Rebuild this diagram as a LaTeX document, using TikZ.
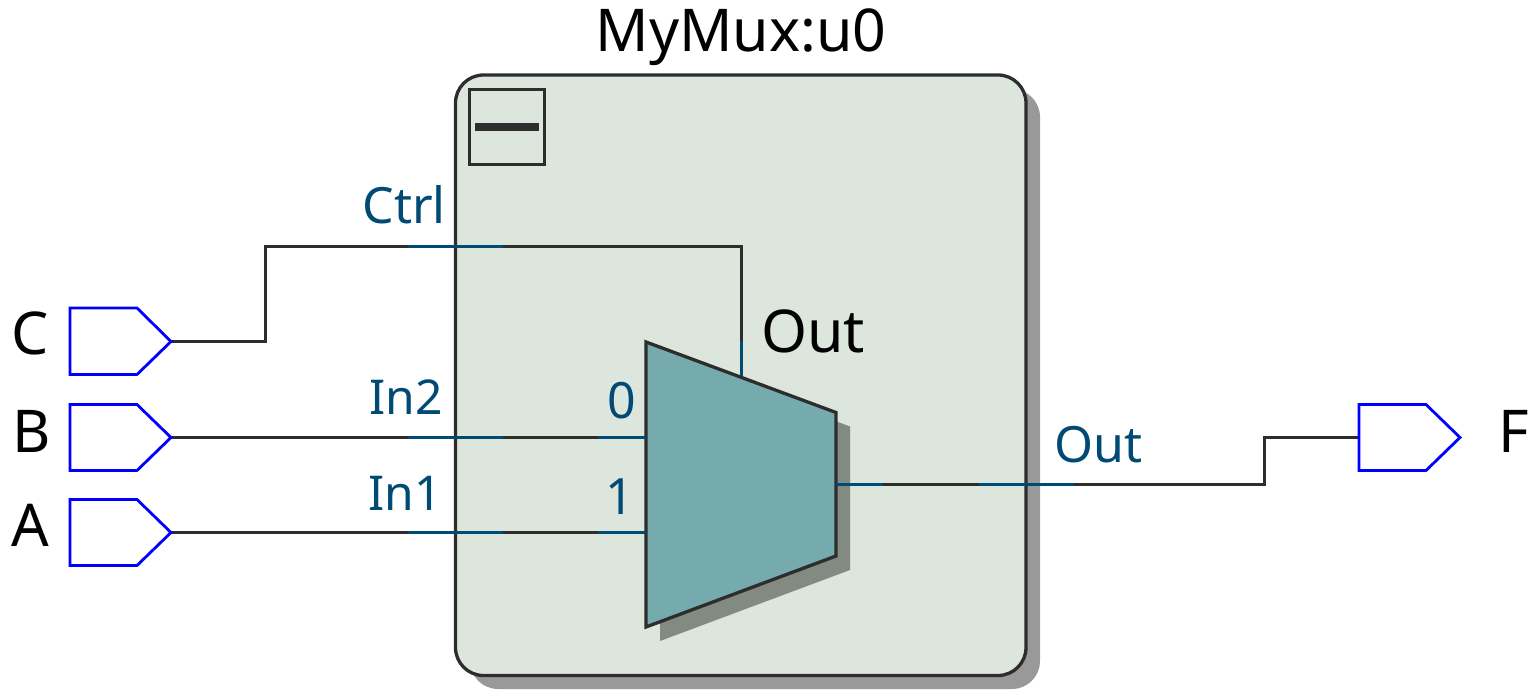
\documentclass[tikz,border=0pt]{standalone}
\usepackage{fontspec}
\setmainfont{Noto Sans}
\definecolor{wirecol}{HTML}{2D2D2D}
\definecolor{portcol}{HTML}{004A75}
\definecolor{boxfill}{HTML}{DCE6DD}
\definecolor{muxfill}{HTML}{75ABAD}
\definecolor{shadowA}{HTML}{999999}
\definecolor{shadowB}{HTML}{828A82}
\tikzset{
  x=1pt,y=-1pt,
  wire/.style={draw=wirecol,line width=3pt},
  portseg/.style={draw=portcol,line width=3pt},
  outline/.style={draw=wirecol,line width=3.3pt,line join=miter},
  pinshape/.style={draw=blue,line width=2.8pt,fill=white,line join=miter},
  biglabel/.style={font=\fontsize{59}{59}\selectfont,text=black,inner sep=0pt},
  portlabel/.style={font=\fontsize{50}{50}\selectfont,text=portcol,inner sep=0pt}
}
\begin{document}
\begin{tikzpicture}
\useasboundingbox (0,0) rectangle (1539,700);
% shadows
\fill[shadowA,rounded corners=28pt] (470,89) rectangle (1040,689);
% hierarchical box
\path[outline,fill=boxfill,rounded corners=28pt] (455.5,75) rectangle (1026,675.5);
% collapse button
\draw[outline] (469.5,89.5) rectangle (544.7,164.5);
\fill[wirecol] (475,123) rectangle (539,131);
% mux shadow & body
\fill[shadowB] (660,356) -- (850,426.5) -- (850,570) -- (660,641) -- cycle;
\coordinate (muxA) at (646,342);
\coordinate (muxB) at (836,412.5);
\coordinate (muxC) at (836,556);
\coordinate (muxD) at (646,627);
\path[outline,fill=muxfill] (muxA) -- (muxB) -- (muxC) -- (muxD) -- cycle;
% connection points
\coordinate (pinC) at (171,341.5);
\coordinate (pinB) at (171,437.5);
\coordinate (pinA) at (171,532.5);
\coordinate (pinF) at (1359,437.5);
\coordinate (muxIn0) at (646,437.5);
\coordinate (muxIn1) at (646,532.5);
\coordinate (muxSel) at (741.7,376);
\coordinate (muxOut) at (836,484.5);
% wires
\draw[wire] (pinC) -- (265.5,341.5) -- (265.5,246.5) -- (741.7,246.5) -- (muxSel);
\draw[wire] (pinB) -- (muxIn0);
\draw[wire] (pinA) -- (muxIn1);
\draw[wire] (muxOut) -- (1264,484.5) -- (1264,437.5) -- (pinF);
% port segments
\draw[portseg] (408,246.5) -- (503,246.5);
\draw[portseg] (408,437.5) -- (503,437.5);
\draw[portseg] (408,532.5) -- (503,532.5);
\draw[portseg] (598,437.5) -- (muxIn0);
\draw[portseg] (598,532.5) -- (muxIn1);
\draw[portseg] (741.7,341) -- (muxSel);
\draw[portseg] (muxOut) -- (883,484.5);
\draw[portseg] (979,484.5) -- (1074,484.5);
% pins
\draw[pinshape] (70,308) -- (137,308) -- (pinC) -- (137,374.5) -- (70,374.5) -- cycle;
\draw[pinshape] (70,404.5) -- (137,404.5) -- (pinB) -- (137,470.5) -- (70,470.5) -- cycle;
\draw[pinshape] (70,499.5) -- (137,499.5) -- (pinA) -- (137,565.5) -- (70,565.5) -- cycle;
\draw[pinshape] (1359,404.5) -- (1426,404.5) -- (1460,437.5) -- (1426,470.5) -- (1359,470.5) -- cycle;
% labels
\node[biglabel,anchor=base] (title) at (741,52) {MyMux:u0};
\node[biglabel,anchor=base west] (muxname) at (761,353) {Out};
\node[biglabel,anchor=base] (lblC) at (30,355) {C};
\node[biglabel,anchor=base] (lblB) at (32,452) {B};
\node[biglabel,anchor=base] (lblA) at (30,546) {A};
\node[biglabel,anchor=base] (lblF) at (1514,452) {F};
\node[portlabel,anchor=base east] (lblCtrl) at (446,224) {Ctrl};
\node[portlabel,anchor=base east,font=\fontsize{48}{48}\selectfont] (lblInTwo) at (443,414) {In2};
\node[portlabel,anchor=base east,font=\fontsize{48}{48}\selectfont] (lblInOne) at (442,510) {In1};
\node[portlabel,anchor=base east] (lblZero) at (636,418) {0};
\node[portlabel,anchor=base east] (lblOne) at (634,514) {1};
\node[portlabel,anchor=base west] (lblOut) at (1054,462) {Out};
\end{tikzpicture}
\end{document}
